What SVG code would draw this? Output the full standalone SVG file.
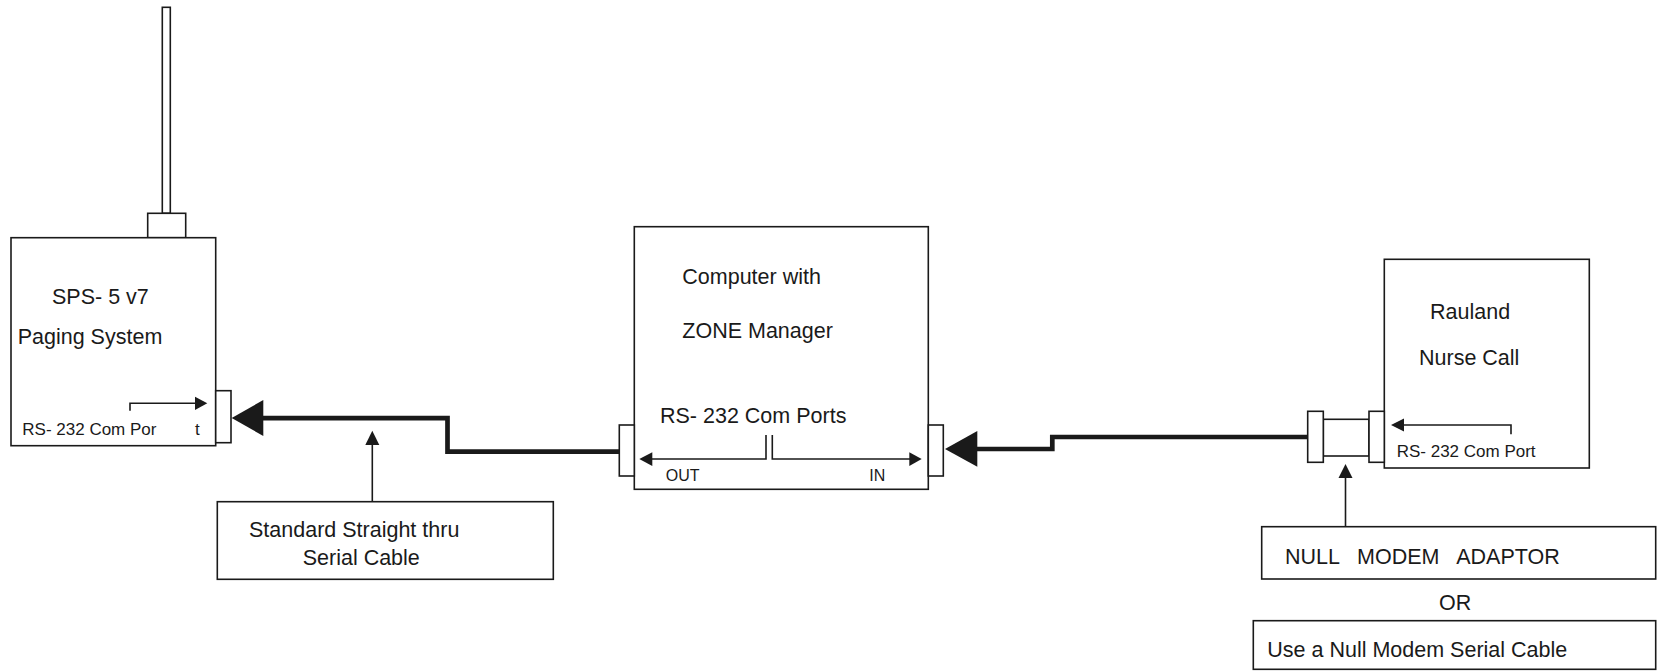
<svg xmlns="http://www.w3.org/2000/svg" width="1657" height="671" viewBox="0 0 1657 671">
<style>
.box{fill:#fff;stroke:#1a1a1a;stroke-width:1.6}
.t{font-family:"Liberation Sans",Arial,sans-serif;font-size:21.5px;fill:#1a1a1a;white-space:pre}
.s{font-family:"Liberation Sans",Arial,sans-serif;font-size:17px;fill:#1a1a1a;white-space:pre}
.xs{font-family:"Liberation Sans",Arial,sans-serif;font-size:16px;fill:#1a1a1a}
.thin{fill:none;stroke:#1a1a1a;stroke-width:1.6}
.cable{fill:none;stroke:#1a1a1a;stroke-width:4.7}
.ah{fill:#1a1a1a}
</style>
<rect width="1657" height="671" fill="#fff"/>
<g id="sps">
<rect class="box" x="162.3" y="7.3" width="8" height="206"/>
<rect class="box" x="147.7" y="213.3" width="38" height="24.4"/>
<rect class="box" x="11" y="237.7" width="204.7" height="208"/>
<rect class="box" x="215.7" y="390.7" width="15.3" height="52"/>
<text class="t" x="52" y="304">SPS- 5 v7</text>
<text class="t" x="17.7" y="344">Paging System</text>
<path class="thin" d="M130 410.7V403.3H196"/>
<polygon class="ah" points="207.3,403.3 195,396.7 195,410"/>
<text class="s" x="22.3" y="435">RS- 232 Com Por</text>
<text class="s" x="195" y="435">t</text>
</g>
<g id="computer">
<rect class="box" x="634.3" y="226.7" width="294" height="262.6"/>
<rect class="box" x="619.3" y="425" width="15" height="51"/>
<rect class="box" x="928.3" y="425" width="15" height="51"/>
<text class="t" x="682.3" y="284">Computer with</text>
<text class="t" x="682.3" y="338.3">ZONE Manager</text>
<text class="t" x="660" y="423.3">RS- 232 Com Ports</text>
<path class="thin" d="M766 435V459H651"/>
<polygon class="ah" points="639.3,459 652.3,452.3 652.3,466"/>
<path class="thin" d="M772.3 435V459H910"/>
<polygon class="ah" points="921.7,459 909.3,452.3 909.3,466"/>
<text class="xs" x="665.7" y="480.7">OUT</text>
<text class="xs" x="869.3" y="480.7">IN</text>
</g>
<g id="rauland">
<rect class="box" x="1384.3" y="259.3" width="205" height="208.7"/>
<text class="t" x="1430" y="319">Rauland</text>
<text class="t" x="1419" y="365">Nurse Call</text>
<path class="thin" d="M1511 434.3V425H1403"/>
<polygon class="ah" points="1391,425 1404,418.5 1404,431.5"/>
<text class="s" x="1396.7" y="457.3">RS- 232 Com Port</text>
</g>
<g id="adaptor">
<rect class="box" x="1323.3" y="419.3" width="45.7" height="36.7"/>
<rect class="box" x="1307.7" y="411.3" width="15.6" height="51"/>
<rect class="box" x="1369" y="411.3" width="15.3" height="51"/>
</g>
<g id="label-cable">
<rect class="box" x="217.3" y="501.7" width="336" height="77.6"/>
<text class="t" x="249" y="536.7">Standard Straight thru</text>
<text class="t" x="302.7" y="565">Serial Cable</text>
</g>
<g id="label-nullmodem">
<rect class="box" x="1261.7" y="526.7" width="394" height="52.3"/>
<text class="t" x="1285" y="564">NULL   MODEM   ADAPTOR</text>
</g>
<g id="label-or">
<text class="t" x="1439" y="610">OR</text>
</g>
<g id="label-nullcable">
<rect class="box" x="1253.3" y="620.7" width="402.4" height="48.6"/>
<text class="t" x="1267.3" y="656.7">Use a Null Modem Serial Cable</text>
</g>
<g id="connectors">
<path class="cable" d="M619.3 451.7H447.5V418.2H262"/>
<polygon class="ah" points="231.7,418 263.3,400 263.3,436"/>
<path class="cable" d="M1307.7 437H1052.3V449H976"/>
<polygon class="ah" points="945,449 977.3,431 977.3,466.7"/>
<line class="thin" x1="372.3" y1="501.7" x2="372.3" y2="444"/>
<polygon class="ah" points="372.3,430.7 365.3,445 379.3,445"/>
<line class="thin" x1="1345.5" y1="526.7" x2="1345.5" y2="477"/>
<polygon class="ah" points="1345.5,464 1338.5,478 1352.5,478"/>
</g>
</svg>
